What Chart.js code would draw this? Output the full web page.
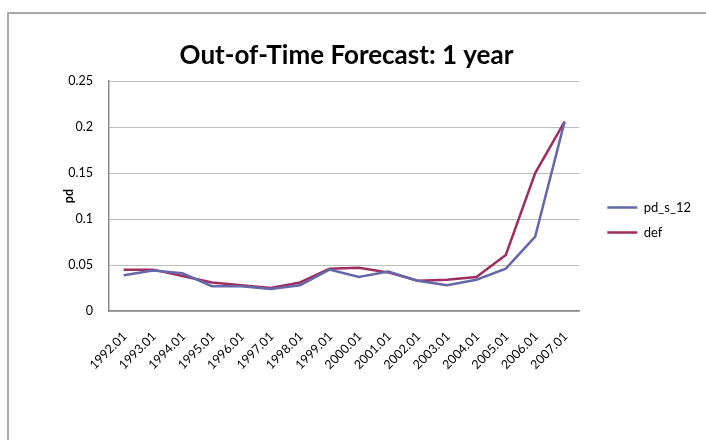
<!DOCTYPE html>
<html>
<head>
<meta charset="utf-8">
<title>Out-of-Time Forecast: 1 year</title>
<script src="https://cdn.jsdelivr.net/npm/chart.js@4"></script>
<style>
  html, body { margin: 0; padding: 0; background: #fff; overflow: hidden; }
  #wrap { position: relative; width: 706px; height: 440px; overflow: hidden; }
  #frame { position: absolute; left: 7px; top: 12px; width: 900px; height: 700px;
           border-left: 2px solid #a9a9a9; border-top: 2px solid #a9a9a9; }
  #chart { position: absolute; left: 0; top: 0; }
</style>
</head>
<body>
<div id="wrap">
  <div id="frame"></div>
  <canvas id="chart" width="706" height="440"></canvas>
</div>
<script>
// Yearly snapshots (January of each year)
const categories = ['1992.01', '1993.01', '1994.01', '1995.01', '1996.01', '1997.01',
                    '1998.01', '1999.01', '2000.01', '2001.01', '2002.01', '2003.01',
                    '2004.01', '2005.01', '2006.01', '2007.01'];

// Model forecast of default probability, 12-month horizon
const pdS12 = [0.039, 0.044, 0.041, 0.027, 0.027, 0.024, 0.028, 0.045,
               0.037, 0.043, 0.033, 0.028, 0.034, 0.046, 0.081, 0.206];

// Observed default rate
const defRate = [0.045, 0.045, 0.038, 0.031, 0.028, 0.025, 0.031, 0.046,
                 0.047, 0.042, 0.033, 0.034, 0.037, 0.061, 0.150, 0.206];

const seriesNames = ['pd_s_12', 'def'];
const yTicks = [0, 0.05, 0.1, 0.15, 0.2, 0.25];

const FONT = 'Lato, "Liberation Sans", sans-serif';

// Push the right-hand legend a little away from the plot area
const legendGap = {
  id: 'legendGap',
  afterLayout(chart, args, opts) {
    const lg = chart.legend;
    if (lg) { lg.left += opts.gap; lg.right += opts.gap; }
  }
};

new Chart(document.getElementById('chart'), {
  type: 'line',
  data: {
    labels: categories,
    datasets: [
      { label: seriesNames[0], data: pdS12, borderColor: '#6468a8', backgroundColor: '#6468a8',
        borderWidth: 2.5, pointRadius: 0, tension: 0, fill: false },
      { label: seriesNames[1], data: defRate, borderColor: '#9e2e60', backgroundColor: '#9e2e60',
        borderWidth: 2.5, pointRadius: 0, tension: 0, fill: false }
    ]
  },
  options: {
    responsive: false,
    animation: false,
    layout: { padding: { left: 8, top: 0, right: 21, bottom: 0 } },
    plugins: {
      title: {
        display: true,
        text: 'Out-of-Time Forecast: 1 year',
        color: '#000',
        font: { family: FONT, size: 26, weight: 'bold', lineHeight: 1.2 },
        padding: { top: 40, bottom: 10 }
      },
      legend: {
        position: 'right',
        align: 'center',
        labels: {
          color: '#000',
          font: { family: FONT, size: 13 },
          usePointStyle: true,
          pointStyle: 'line',
          pointStyleWidth: 30,
          boxHeight: 12,
          padding: 12
        }
      },
      legendGap: { gap: 16 },
      tooltip: { enabled: false }
    },
    scales: {
      x: {
        type: 'category',
        offset: true,
        afterFit(scale) { scale.height = 129; },
        grid: { display: false, drawTicks: false },
        border: { display: true, color: '#8a8a8a', width: 1.5 },
        ticks: {
          color: '#000',
          font: { family: FONT, size: 12.5 },
          minRotation: 45, maxRotation: 45,
          autoSkip: false,
          labelOffset: 1,
          padding: 18
        }
      },
      y: {
        min: 0, max: 0.25,
        afterFit(scale) { scale.width = 101; },
        afterBuildTicks(scale) { scale.ticks = yTicks.map(v => ({ value: v })); },
        grid: { color: '#bdbdbd', lineWidth: 1, drawTicks: false },
        border: { display: true, color: '#8a8a8a', width: 1.5 },
        ticks: {
          color: '#000',
          font: { family: FONT, size: 12.5 },
          padding: 16,
          callback: v => String(+v.toFixed(2))
        },
        title: {
          display: true,
          text: 'pd',
          color: '#000',
          font: { family: FONT, size: 12.5, weight: 'bold', lineHeight: 1.2 },
          padding: { top: 53, bottom: 0 }
        }
      }
    }
  },
  plugins: [legendGap]
});
</script>
</body>
</html>
